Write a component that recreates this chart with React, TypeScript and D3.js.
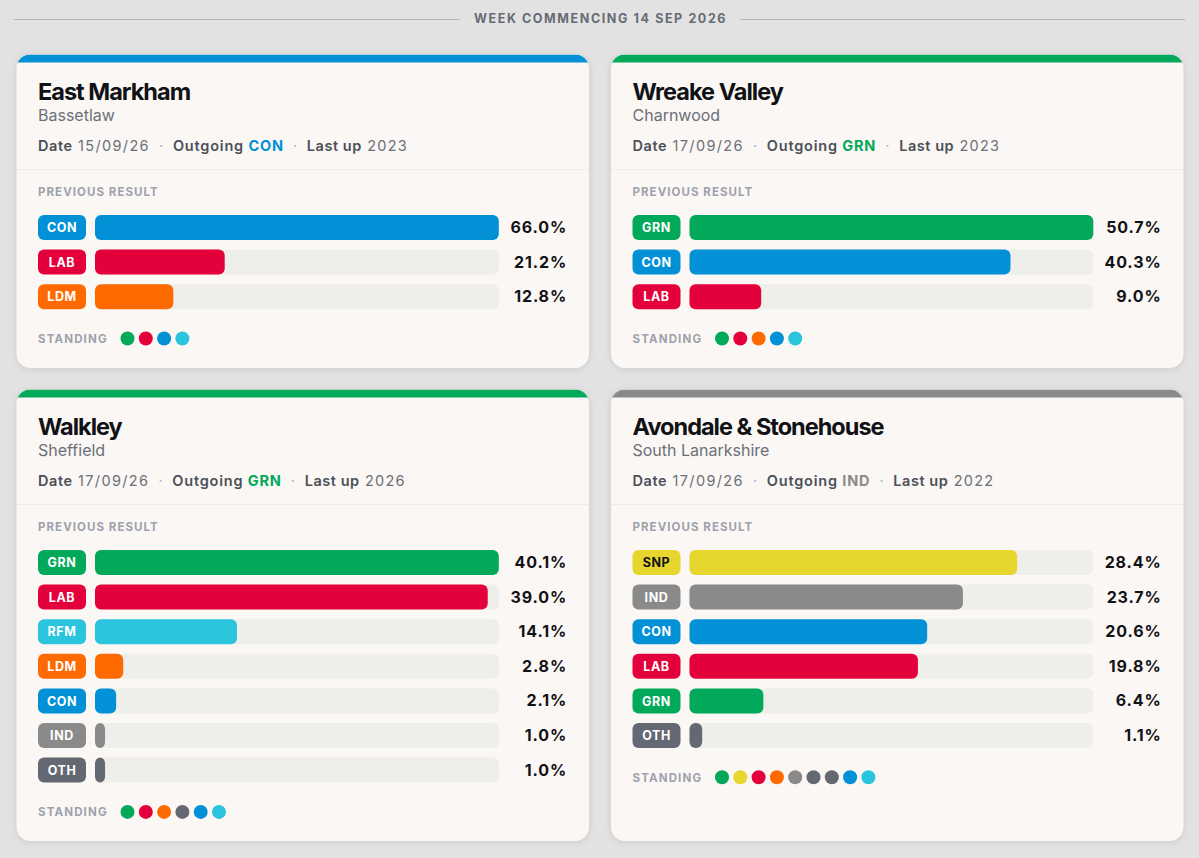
import * as d3 from 'd3';

const week = 'WEEK COMMENCING 14 SEP 2026';

const partyColors: Record<string, string> = {
  CON: '#0291d6',
  LAB: '#e4003b',
  LDM: '#ff6a00',
  GRN: '#02a95b',
  RFM: '#2bc4dd',
  SNP: '#e6d62e',
  IND: '#8a8a8a',
  OTH: '#636872',
};

const eastParties = ['CON', 'LAB', 'LDM'];
const eastValues = [66.0, 21.2, 12.8];
const eastStanding = ['GRN', 'LAB', 'CON', 'RFM'];

const wreakeParties = ['GRN', 'CON', 'LAB'];
const wreakeValues = [50.7, 40.3, 9.0];
const wreakeStanding = ['GRN', 'LAB', 'LDM', 'CON', 'RFM'];

const walkleyParties = ['GRN', 'LAB', 'RFM', 'LDM', 'CON', 'IND', 'OTH'];
const walkleyValues = [40.1, 39.0, 14.1, 2.8, 2.1, 1.0, 1.0];
const walkleyStanding = ['GRN', 'LAB', 'LDM', 'OTH', 'CON', 'RFM'];

const avondaleParties = ['SNP', 'IND', 'CON', 'LAB', 'GRN', 'OTH'];
const avondaleValues = [28.4, 23.7, 20.6, 19.8, 6.4, 1.1];
const avondaleStanding = ['GRN', 'SNP', 'LAB', 'LDM', 'IND', 'OTH', 'OTH', 'CON', 'RFM'];

const WIDTH = 1199;
const HEIGHT = 858;
const CARD_W = 572.5;
const ROW_STEP = 34.6;
const ROW_H = 25;

const font = 'Inter, sans-serif';

interface CardProps {
  id: string;
  x: number;
  y: number;
  h: number;
  name: string;
  area: string;
  date: string;
  outgoing: string;
  lastUp: string;
  parties: string[];
  values: number[];
  standing: string[];
}

const Card = ({ id, x, y, h, name, area, date, outgoing, lastUp, parties, values, standing }: CardProps) => {
  // tracks fill at the leading share, but never scale below 35%
  const xScale = d3.scaleLinear()
    .domain([0, Math.max(35, d3.max(values) || 0)])
    .range([0, 403.8]);

  const yScale = d3.scaleBand()
    .domain(parties)
    .range([0, parties.length * ROW_STEP - (ROW_STEP - ROW_H)])
    .paddingInner((ROW_STEP - ROW_H) / ROW_STEP);

  const dotScale = d3.scalePoint<number>()
    .domain(d3.range(standing.length))
    .range([0, (standing.length - 1) * 18.3]);

  const rowsTop = 160.5;
  const standingY = rowsTop + parties.length * ROW_STEP + 19.7;

  return (
    <g transform={`translate(${x},${y})`} fontFamily={font}>
      <clipPath id={id}>
        <rect width={CARD_W} height={h} rx={14} />
      </clipPath>
      <rect width={CARD_W} height={h} rx={14} fill="#fbf7f4" style={{ filter: 'drop-shadow(0 1px 3px rgba(0,0,0,0.1))' }} />
      <rect width={CARD_W} height={8} fill={partyColors[outgoing]} clipPath={`url(#${id})`} />

      <text x={21.5} y={45.5} fontSize={23.5} fontWeight={700} letterSpacing={-1} fill="#111216">{name}</text>
      <text x={21.5} y={66.5} fontSize={16} fill="#6b7079">{area}</text>

      <text x={21.5} y={96.5} fontSize={14.5} letterSpacing={0.55} fill="#6b7079">
        <tspan fontWeight={600} fill="#4b5059">Date</tspan>
        <tspan letterSpacing={1.35}> {date}</tspan>
        <tspan dx={4.5} fill="#b5b8bd">  ·  </tspan>
        <tspan dx={4.5} fontWeight={600} letterSpacing={0.8} fill="#4b5059">Outgoing </tspan>
        <tspan fontWeight={700} letterSpacing={0.8} fill={partyColors[outgoing]}>{outgoing}</tspan>
        <tspan dx={4.5} fill="#b5b8bd">  ·  </tspan>
        <tspan dx={4.5} fontWeight={600} fill="#4b5059">Last up</tspan>
        <tspan letterSpacing={1.25}> {lastUp}</tspan>
      </text>

      <line x1={0} x2={CARD_W} y1={115} y2={115} stroke="#efebe7" />

      <text x={21.5} y={141.7} fontSize={11.5} fontWeight={700} letterSpacing={1.05} fill="#9ea2ac">PREVIOUS RESULT</text>

      <g transform={`translate(0,${rowsTop})`}>
        {parties.map((p, i) => (
          <g key={p} transform={`translate(0,${yScale(p)})`}>
            <rect x={21.5} width={48} height={ROW_H} rx={6} fill={partyColors[p]} />
            <text x={45.5} y={17.2} textAnchor="middle" fontSize={12.5} fontWeight={700} letterSpacing={0.6} fill={p === 'SNP' ? '#111216' : '#ffffff'}>{p}</text>
            <rect x={78.5} width={403.8} height={ROW_H} rx={6} fill="#eeeeea" />
            <rect x={78.5} width={xScale(values[i])} height={ROW_H} rx={6} fill={partyColors[p]} />
            <text x={550.5} y={18} textAnchor="end" fontSize={16} fontWeight={700} letterSpacing={0.85} fill="#111216">{values[i].toFixed(1)}%</text>
          </g>
        ))}
      </g>

      <text x={21.5} y={standingY + 4.2} fontSize={11.5} fontWeight={700} letterSpacing={1.15} fill="#9ea2ac">STANDING</text>
      <g transform={`translate(111,${standingY})`}>
        {standing.map((p, i) => (
          <circle key={i} cx={dotScale(i)} r={7} fill={partyColors[p]} />
        ))}
      </g>
    </g>
  );
};

export default function App() {
  return (
    <svg width={WIDTH} height={HEIGHT} style={{ position: 'absolute', left: 0, top: 0, background: '#e2e2e2' }}>
      <line x1={14} x2={460} y1={19.5} y2={19.5} stroke="#b5b5b5" />
      <line x1={740} x2={1185} y1={19.5} y2={19.5} stroke="#b5b5b5" />
      <text x={600.5} y={23.3} textAnchor="middle" fontFamily={font} fontSize={12.5} fontWeight={700} letterSpacing={1.6} fill="#666b75">{week}</text>

      <Card id="c1" x={16.5} y={54.5} h={313.5} name="East Markham" area="Bassetlaw" date="15/09/26" outgoing="CON" lastUp="2023"
        parties={eastParties} values={eastValues} standing={eastStanding} />
      <Card id="c2" x={611} y={54.5} h={313.5} name="Wreake Valley" area="Charnwood" date="17/09/26" outgoing="GRN" lastUp="2023"
        parties={wreakeParties} values={wreakeValues} standing={wreakeStanding} />
      <Card id="c3" x={16.5} y={389.5} h={451.5} name="Walkley" area="Sheffield" date="17/09/26" outgoing="GRN" lastUp="2026"
        parties={walkleyParties} values={walkleyValues} standing={walkleyStanding} />
      <Card id="c4" x={611} y={389.5} h={451.5} name="Avondale & Stonehouse" area="South Lanarkshire" date="17/09/26" outgoing="IND" lastUp="2022"
        parties={avondaleParties} values={avondaleValues} standing={avondaleStanding} />
    </svg>
  );
}
